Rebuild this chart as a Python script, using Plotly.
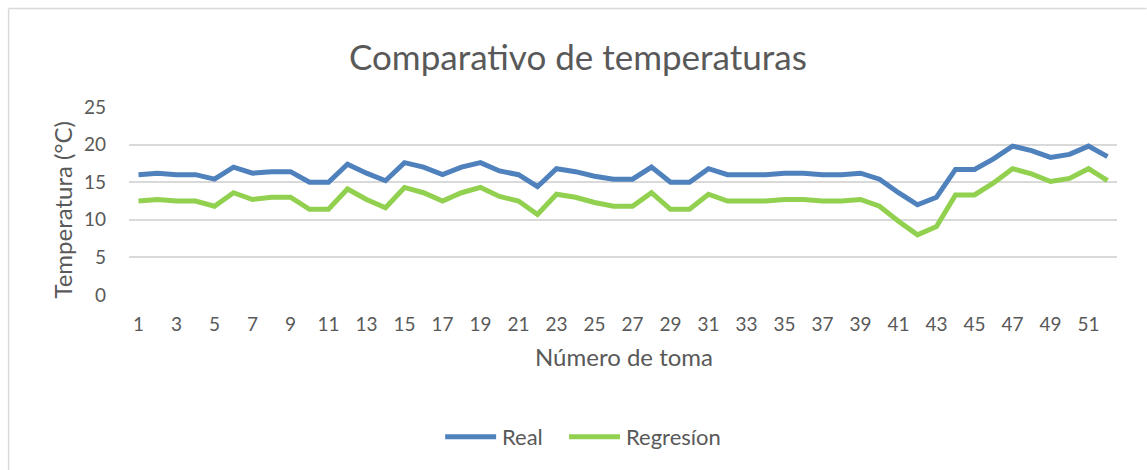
import plotly.graph_objects as go

# Sample numbers (1..52) and temperatures in °C
tomas = list(range(1, 53))
real = [16.0, 16.2, 16.0, 16.0, 15.4, 17.0, 16.2, 16.4, 16.4, 15.0,
        15.0, 17.4, 16.2, 15.2, 17.6, 17.0, 16.0, 17.0, 17.6, 16.5,
        16.0, 14.4, 16.8, 16.4, 15.8, 15.4, 15.4, 17.0, 15.0, 15.0,
        16.8, 16.0, 16.0, 16.0, 16.2, 16.2, 16.0, 16.0, 16.2, 15.4,
        13.6, 12.0, 13.0, 16.7, 16.7, 18.1, 19.8, 19.2, 18.3, 18.7,
        19.8, 18.4]
regresion = [12.5, 12.7, 12.5, 12.5, 11.8, 13.6, 12.7, 13.0, 13.0, 11.4,
             11.4, 14.1, 12.7, 11.6, 14.3, 13.6, 12.5, 13.6, 14.3, 13.1,
             12.5, 10.7, 13.4, 13.0, 12.3, 11.8, 11.8, 13.6, 11.4, 11.4,
             13.4, 12.5, 12.5, 12.5, 12.7, 12.7, 12.5, 12.5, 12.7, 11.8,
             9.8, 8.0, 9.1, 13.3, 13.3, 14.9, 16.8, 16.1, 15.1, 15.5,
             16.8, 15.2]
x_ticks = list(range(1, 53, 2))
y_ticks = [0, 5, 10, 15, 20, 25]

FONT = "Lato"
GREY = "#595959"
BLUE = "#4F81BD"
GREEN = "#92D050"

W, H = 1147, 470
L, R, T, B = 128.5, 29.5, 107.3, 175.3
pw, ph = W - L - R, H - T - B


def px(x):
    return (x - L) / pw


def py(y):
    return (H - B - y) / ph


fig = go.Figure()
fig.add_trace(go.Scatter(x=tomas, y=real, mode="lines", name="Real",
                         line=dict(color=BLUE, width=5)))
fig.add_trace(go.Scatter(x=tomas, y=regresion, mode="lines", name="Regresíon",
                         line=dict(color=GREEN, width=5)))

# legend drawn as line keys + labels below the plot
legend_y = py(436)
shapes = [
    dict(type="line", xref="paper", yref="paper", x0=px(8), x1=px(W),
         y0=py(9), y1=py(9), line=dict(color="#D9D9D9", width=1.5)),
    dict(type="line", xref="paper", yref="paper", x0=px(8), x1=px(8),
         y0=py(9), y1=py(H), line=dict(color="#D9D9D9", width=1.5)),
    dict(type="line", xref="paper", yref="paper", x0=px(445), x1=px(496),
         y0=legend_y, y1=legend_y, line=dict(color=BLUE, width=5)),
    dict(type="line", xref="paper", yref="paper", x0=px(569), x1=px(620),
         y0=legend_y, y1=legend_y, line=dict(color=GREEN, width=5)),
]

fig.update_layout(
    width=W, height=H,
    margin=dict(l=L, r=R, t=T, b=B),
    paper_bgcolor="white", plot_bgcolor="white",
    font=dict(family=FONT, color=GREY),
    showlegend=False,
    xaxis=dict(range=[0.5, 52.5], tickmode="array", tickvals=x_ticks,
               ticktext=[str(v) for v in x_ticks], showgrid=False, zeroline=False,
               showline=False, ticks="", tickfont=dict(size=19, color=GREY),
               ticklabelstandoff=16, fixedrange=True),
    yaxis=dict(range=[0, 25], tickmode="array", tickvals=y_ticks,
               showgrid=True, gridcolor="#D9D9D9", gridwidth=1.5,
               zeroline=False, showline=False, ticks="",
               tickfont=dict(size=19, color=GREY), ticklabelstandoff=22,
               fixedrange=True),
    shapes=shapes,
    annotations=[
        dict(text="Comparativo de temperaturas", xref="paper", yref="paper",
             x=px(578), y=py(56), xanchor="center", yanchor="middle",
             showarrow=False, font=dict(size=35, color=GREY, family=FONT)),
        dict(text="Temperatura (°C)", xref="paper", yref="paper",
             x=px(61), y=py(210), xanchor="center", yanchor="middle",
             textangle=-90, showarrow=False, font=dict(size=24, color=GREY)),
        dict(text="Número de toma", xref="paper", yref="paper",
             x=px(624), y=py(356), xanchor="center", yanchor="middle",
             showarrow=False, font=dict(size=24, color=GREY)),
        dict(text="Real", xref="paper", yref="paper",
             x=px(500), y=legend_y, xanchor="left", yanchor="middle",
             showarrow=False, font=dict(size=22, color=GREY)),
        dict(text="Regresíon", xref="paper", yref="paper",
             x=px(624), y=legend_y, xanchor="left", yanchor="middle",
             showarrow=False, font=dict(size=22, color=GREY)),
    ],
)

fig.write_html("out.html")
